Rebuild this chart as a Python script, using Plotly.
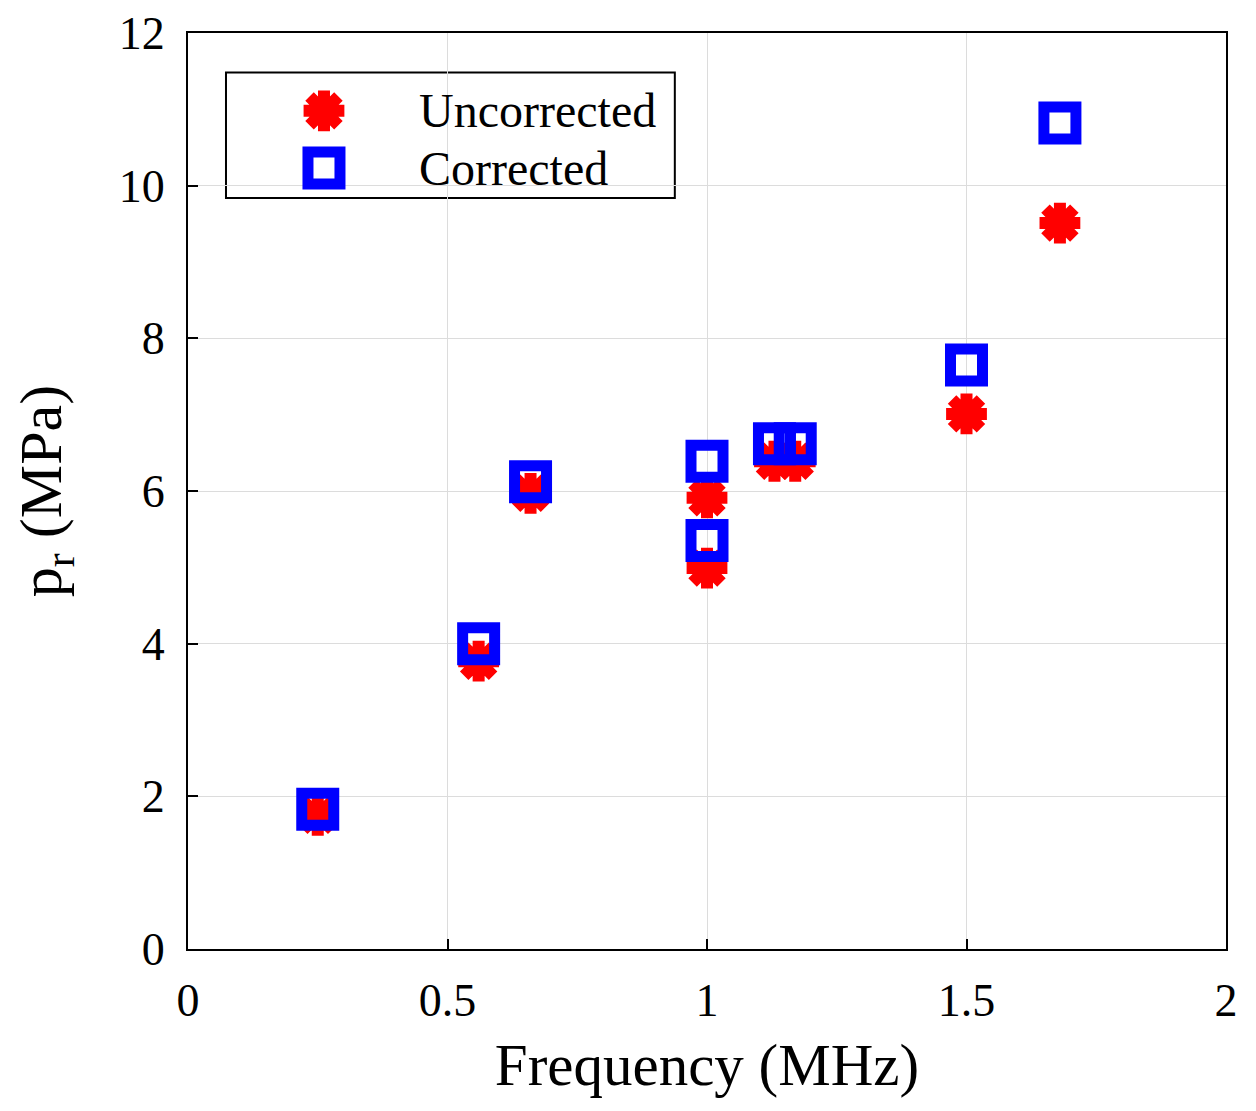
import plotly.graph_objects as go

freq_unc = [0.25, 0.56, 0.66, 1.0, 1.0, 1.13, 1.17, 1.5, 1.68]
p_unc = [1.75, 3.77, 5.97, 5.91, 4.99, 6.39, 6.39, 7.01, 9.51]
freq_cor = [0.25, 0.56, 0.66, 1.0, 1.0, 1.13, 1.17, 1.5, 1.68]
p_cor = [1.83, 4.0, 6.12, 6.39, 5.35, 6.62, 6.62, 7.65, 10.82]

series_names = ["Uncorrected", "Corrected"]

x_ticks = [0, 0.5, 1, 1.5, 2]
x_tick_labels = ["0", "0.5", "1", "1.5", "2"]
y_ticks = [0, 2, 4, 6, 8, 10, 12]
y_tick_labels = ["0", "2", "4", "6", "8", "10", "12"]

FONT = "Liberation Serif, Times New Roman, serif"

unc_marker = dict(symbol="asterisk-open", size=34, color="red",
                  line=dict(color="red", width=12))
cor_marker = dict(symbol="square-open", size=32, color="blue",
                  line=dict(color="blue", width=11))

fig = go.Figure()
fig.add_trace(go.Scatter(x=freq_unc, y=p_unc, mode="markers",
                         name=series_names[0], marker=unc_marker, showlegend=False))
fig.add_trace(go.Scatter(x=freq_cor, y=p_cor, mode="markers",
                         name=series_names[1], marker=cor_marker, showlegend=False))

# legend keys (large markers) on an overlay axis in [0,1] units
leg_key_x = 0.131
leg_row_y = [0.915, 0.8526]
leg_text_x = 0.221
fig.add_trace(go.Scatter(x=[leg_key_x], y=[leg_row_y[0]], mode="markers",
                         marker=unc_marker, xaxis="x2", yaxis="y2",
                         showlegend=False, hoverinfo="skip"))
fig.add_trace(go.Scatter(x=[leg_key_x], y=[leg_row_y[1]], mode="markers",
                         marker=cor_marker, xaxis="x2", yaxis="y2",
                         showlegend=False, hoverinfo="skip"))

axis_common = dict(
    showline=True, linecolor="black", linewidth=2, mirror=True,
    showgrid=True, gridcolor="#dcdcdc", gridwidth=1,
    zeroline=False, ticks="inside", ticklen=10, tickwidth=1.5, tickcolor="black",
    tickfont=dict(family=FONT, size=46, color="black"),
)

fig.update_xaxes(range=[0, 2], tickvals=x_ticks, ticktext=x_tick_labels,
                 ticklabelstandoff=10,
                 title=dict(text="Frequency (MHz)", font=dict(family=FONT, size=59, color="black"), standoff=18),
                 **axis_common)
fig.update_yaxes(range=[0, 12], tickvals=y_ticks, ticktext=y_tick_labels,
                 ticklabelstandoff=12,
                 title=dict(text="p<sub>r</sub> (MPa)", font=dict(family=FONT, size=60, color="black"), standoff=40),
                 **axis_common)

fig.update_layout(
    width=1256, height=1111,
    margin=dict(l=180, r=38, t=25, b=170, autoexpand=False),
    plot_bgcolor="white", paper_bgcolor="white",
    font=dict(family=FONT, color="black"),
    showlegend=False,
    xaxis2=dict(overlaying="x", range=[0, 1], visible=False, fixedrange=True),
    yaxis2=dict(overlaying="y", range=[0, 1], visible=False, fixedrange=True),
    shapes=[dict(type="rect", xref="paper", yref="paper",
                 x0=0.0366, x1=0.469, y0=0.820, y1=0.957,
                 line=dict(color="black", width=2), fillcolor="white", layer="below")],
    annotations=[
        dict(text=series_names[0], xref="paper", yref="paper", x=leg_text_x, y=leg_row_y[0],
             xanchor="left", yanchor="middle", showarrow=False,
             font=dict(family=FONT, size=48, color="black")),
        dict(text=series_names[1], xref="paper", yref="paper", x=leg_text_x, y=leg_row_y[1],
             xanchor="left", yanchor="middle", showarrow=False,
             font=dict(family=FONT, size=48, color="black")),
    ],
)

fig.write_html("out.html")
